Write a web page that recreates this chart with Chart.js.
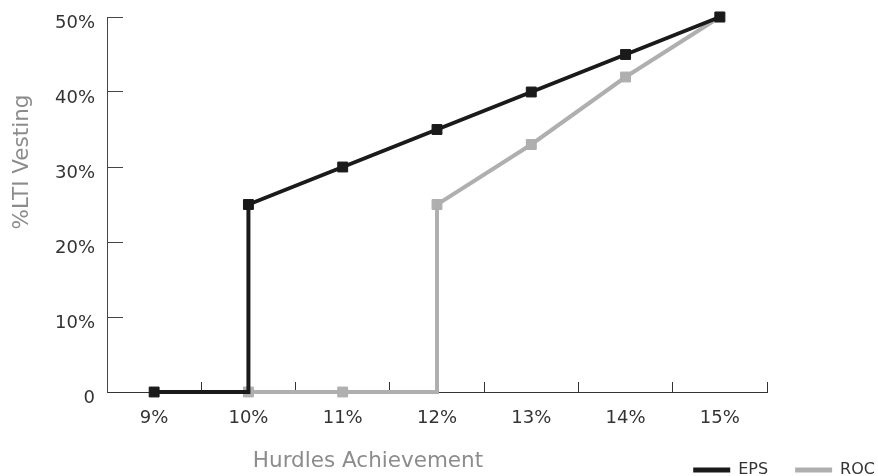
<!DOCTYPE html>
<html>
<head>
<meta charset="utf-8">
<script src="https://cdn.jsdelivr.net/npm/chart.js@4"></script>
<style>
  html, body { margin: 0; padding: 0; background: #fff; }
  #wrap { width: 878px; height: 476px; position: relative; }
</style>
</head>
<body>
<div id="wrap"><canvas id="chart"></canvas></div>
<script>
// Chart data
const hurdles = ["9%", "10%", "11%", "12%", "13%", "14%", "15%"];
const epsHurdles = ["9%", "10%", "10%", "11%", "12%", "13%", "14%", "15%"];
const epsVesting = [0, 0, 25, 30, 35, 40, 45, 50];
const rocHurdles = ["10%", "11%", "12%", "12%", "13%", "14%", "15%"];
const rocVesting = [0, 0, 0, 25, 33, 42, 50];
const yTickValues = [0, 10, 20, 30, 40, 50];

const xAxisTitle = "Hurdles Achievement";
const yAxisTitle = "%LTI Vesting";

const FONT = '"DejaVu Sans", sans-serif';

function toPoints(xs, ys) {
  return xs.map((x, i) => ({ x: x, y: ys[i] }));
}

// hide the marker on the corner of a step (next point sits on the same hurdle)
function markerRadius(ctx) {
  const data = ctx.dataset.data;
  const i = ctx.dataIndex;
  if (i < data.length - 1 && data[i + 1].x === data[i].x) return 0;
  return 7;
}

// axis titles sit off-centre in the original, so draw them here;
// also move the legend into the last row, next to the x title
const axisTitles = {
  id: "axisTitles",
  afterLayout(chart) {
    const lg = chart.legend;
    if (lg) {
      lg.top = chart.height - 41;
      lg.bottom = lg.top + lg.height;
      lg.left += 24;
      lg.right += 24;
    }
    // x labels are clipped to the scale box, give them room
    chart.scales.x.bottom = chart.height;
  },
  afterDraw(chart) {
    const { ctx, chartArea } = chart;
    ctx.save();
    ctx.fillStyle = "#8c8c8c";
    ctx.font = "21.5px " + FONT;
    ctx.textAlign = "center";
    ctx.textBaseline = "middle";
    ctx.fillText(xAxisTitle, chartArea.left + 261, chart.height - 15);
    ctx.translate(22, chartArea.top + 145);
    ctx.rotate(-Math.PI / 2);
    ctx.fillText(yAxisTitle, 0, 0);
    ctx.restore();
  },
};

const ctx = document.getElementById("chart").getContext("2d");
new Chart(ctx, {
  type: "line",
  data: {
    labels: hurdles,
    datasets: [
      {
        label: "EPS",
        data: toPoints(epsHurdles, epsVesting),
        borderColor: "#1a1a1a",
        backgroundColor: "#1a1a1a",
        borderWidth: 4,
        pointStyle: "rect",
        pointRadius: markerRadius,
        pointBorderWidth: 1,
        pointBackgroundColor: "#1a1a1a",
        pointBorderColor: "#1a1a1a",
        tension: 0,
        clip: false,
      },
      {
        label: "ROC",
        data: toPoints(rocHurdles, rocVesting),
        borderColor: "#afafaf",
        backgroundColor: "#afafaf",
        borderWidth: 4,
        pointStyle: "rect",
        pointRadius: markerRadius,
        pointBorderWidth: 1,
        pointBackgroundColor: "#afafaf",
        pointBorderColor: "#afafaf",
        tension: 0,
        clip: false,
      },
    ],
  },
  options: {
    responsive: true,
    maintainAspectRatio: false,
    animation: false,
    layout: {
      padding: { top: 17, left: 0, right: 0, bottom: 0 },
    },
    plugins: {
      legend: {
        position: "bottom",
        align: "end",
        labels: {
          boxWidth: 37,
          boxHeight: 5,
          padding: 27,
          color: "#333",
          font: { family: FONT, size: 16 },
          generateLabels(chart) {
            const items = Chart.defaults.plugins.legend.labels.generateLabels(chart);
            // plain filled bars, no outline
            items.forEach((it) => {
              it.lineWidth = 0;
            });
            return items;
          },
        },
      },
      tooltip: { enabled: false },
    },
    scales: {
      x: {
        type: "category",
        offset: true,
        grid: {
          offset: true,
          drawOnChartArea: false,
          tickLength: -10,
          color: "#333",
          lineWidth: 1,
        },
        border: { color: "#333", width: 1 },
        ticks: {
          color: "#333",
          padding: 26,
          font: { family: FONT, size: 18 },
        },
        afterFit(scale) {
          scale.height = 31;
          scale.paddingLeft = 0;
          scale.paddingRight = 0;
        },
      },
      y: {
        min: 0,
        max: 50,
        afterBuildTicks(scale) {
          scale.ticks = yTickValues.map((v) => ({ value: v }));
        },
        grid: {
          drawOnChartArea: false,
          tickLength: -16,
          color: "#444",
          lineWidth: 1,
        },
        border: { color: "#444", width: 1 },
        ticks: {
          color: "#333",
          padding: 28,
          labelOffset: 6,
          font: { family: FONT, size: 18 },
          callback: (v) => (v === 0 ? "0" : v + "%"),
        },
        afterFit(scale) {
          scale.width = 107;
          scale.paddingTop = 0;
          scale.paddingBottom = 0;
        },
      },
      spacer: {
        type: "linear",
        position: "right",
        display: true,
        grid: { display: false },
        border: { display: false },
        ticks: { display: false },
        afterFit(scale) {
          scale.width = 111;
          scale.paddingTop = 0;
          scale.paddingBottom = 0;
        },
      },
    },
  },
  plugins: [axisTitles],
});
</script>
</body>
</html>
